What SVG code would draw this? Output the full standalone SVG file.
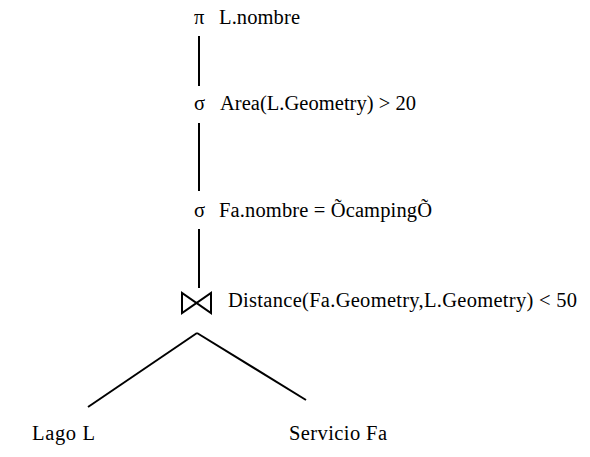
<svg xmlns="http://www.w3.org/2000/svg" width="590" height="457" viewBox="0 0 590 457">
<style>
text{font-family:"Liberation Serif","Times New Roman",serif;font-size:20.5px;fill:#000}
.ln{stroke:#000;stroke-width:2;fill:none}
</style>
<rect width="590" height="457" fill="#fff"/>
<g id="connectors">
<line class="ln" x1="199" y1="36" x2="199" y2="86"/>
<line class="ln" x1="199" y1="123" x2="199" y2="191"/>
<line class="ln" x1="199" y1="229" x2="199" y2="288"/>
<line class="ln" x1="197" y1="333" x2="88" y2="407"/>
<line class="ln" x1="197" y1="333" x2="306" y2="400"/>
</g>
<g id="project">
<text x="194" y="24">π</text>
<text x="219" y="24" textLength="81" lengthAdjust="spacing">L.nombre</text>
</g>
<g id="select-area">
<text x="194" y="110">σ</text>
<text x="220" y="110" textLength="196" lengthAdjust="spacing">Area(L.Geometry) &gt; 20</text>
</g>
<g id="select-nombre">
<text x="194" y="217">σ</text>
<text x="219" y="217" textLength="213" lengthAdjust="spacing">Fa.nombre = ÕcampingÕ</text>
</g>
<g id="join">
<path class="ln" d="M182,293 L182,313 L211,293 L211,313 Z"/>
<text x="228" y="307" textLength="349" lengthAdjust="spacing">Distance(Fa.Geometry,L.Geometry) &lt; 50</text>
</g>
<g id="lago">
<text x="32" y="440" textLength="63" lengthAdjust="spacing">Lago L</text>
</g>
<g id="servicio">
<text x="289" y="440" textLength="98" lengthAdjust="spacing">Servicio Fa</text>
</g>
</svg>
